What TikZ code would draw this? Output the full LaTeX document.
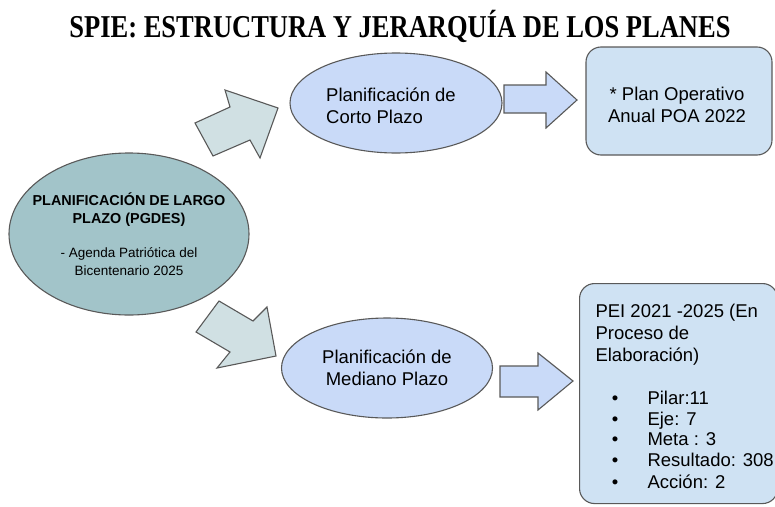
\documentclass[tikz,border=0pt]{standalone}
\usepackage{graphicx}
\usepackage{fontspec}
\setmainfont{Liberation Sans}
\newfontfamily\titlefont{Liberation Serif}
\usepackage{tikz}
\usetikzlibrary{shapes.geometric}
\definecolor{largo}{HTML}{A2C4C9}
\definecolor{plazo}{HTML}{C9DAF8}
\definecolor{plan}{HTML}{CFE2F3}
\definecolor{flecha}{HTML}{D0E0E3}
\definecolor{borde}{HTML}{595959}
\tikzset{
  ovalo/.style={ellipse, draw=borde, line width=1.1pt, inner sep=0pt},
  caja/.style={rectangle, rounded corners=15pt, draw=borde, line width=1.1pt, fill=plan},
  bloque/.style={draw=borde, line width=1.1pt, line join=miter},
  texto/.style={font=\fontsize{18.5}{22}\selectfont}
}

\begin{document}
\begin{tikzpicture}[x=1pt,y=-1pt]
            \useasboundingbox (0,0) rectangle (775,506);

            % titulo
            \node (titulo) at (400,26) {\scalebox{1}[1.2]{\titlefont\bfseries\fontsize{26.5}{30}\selectfont SPIE: ESTRUCTURA Y JERARQUÍA DE LOS PLANES}};

            % largo plazo
            \node[ovalo, fill=largo, minimum width=240pt, minimum height=162pt] (largo) at (129,234) {};
            \node[align=center, font=\fontsize{13.5}{18}\selectfont] (largotxt) at (largo)
                 {\textbf{\fontsize{14.4}{18}\selectfont PLANIFICACIÓN DE LARGO}\\\textbf{\fontsize{14.4}{18}\selectfont PLAZO (PGDES)}\\[16pt]- Agenda Patriótica del\\Bicentenario 2025};

            % flechas hacia corto y mediano
            \draw[bloque, fill=flecha] (195,123) -- (230,107) -- (225,90) -- (278,108) -- (260,158) -- (250,140) -- (213,156) -- cycle;
            \draw[bloque, fill=flecha] (219,301) -- (253,321) -- (267,307) -- (276,356) -- (217,368) -- (230,352) -- (196,332) -- cycle;

            % corto plazo
            \node[ovalo, fill=plazo, minimum width=212pt, minimum height=100pt] (corto) at (396,103) {};
            \node[texto, align=left] (cortotxt) at (391,106) {Planificación de\\Corto Plazo};

            % mediano plazo
            \node[ovalo, fill=plazo, minimum width=211pt, minimum height=100pt] (mediano) at (387,368) {};
            \node[texto, align=center] (medianotxt) at (mediano) {Planificación de\\Mediano Plazo};

            % flechas hacia los planes
            \draw[bloque, fill=plazo] (504,85) -- (546,85) -- (546,72) -- (577,100) -- (546,128) -- (546,113) -- (504,113) -- cycle;
            \draw[bloque, fill=plazo] (500,366) -- (538,366) -- (538,353) -- (573,381) -- (538,410) -- (538,397) -- (500,397) -- cycle;

            % POA
            \node[caja, minimum width=186pt, minimum height=108pt] (poa) at (679,101) {};
            \node[texto, align=center] (poatxt) at (677,105) {* Plan Operativo\\Anual POA 2022};

            % PEI
            \node[caja, minimum width=198pt, minimum height=220pt, anchor=north west] (pei) at (579,283) {};
            \node[texto, anchor=base west, align=left] (peititulo) at (592,361)
                 {PEI 2021 -2025 (En\\Proceso de\\Elaboración)};
            \foreach \y/\txt/\nom in {404/Pilar:11/pilar, 425/Eje: 7/eje, 445/Meta : 3/meta, 466/Resultado: 308/resultado, 488/Acción: 2/accion}{
              \node[texto, anchor=base] (b\nom) at (615,\y) {\textbullet};
              \node[texto, anchor=base west] (\nom) at (644,\y) {\txt};
            }
        \end{tikzpicture}
\end{document}
